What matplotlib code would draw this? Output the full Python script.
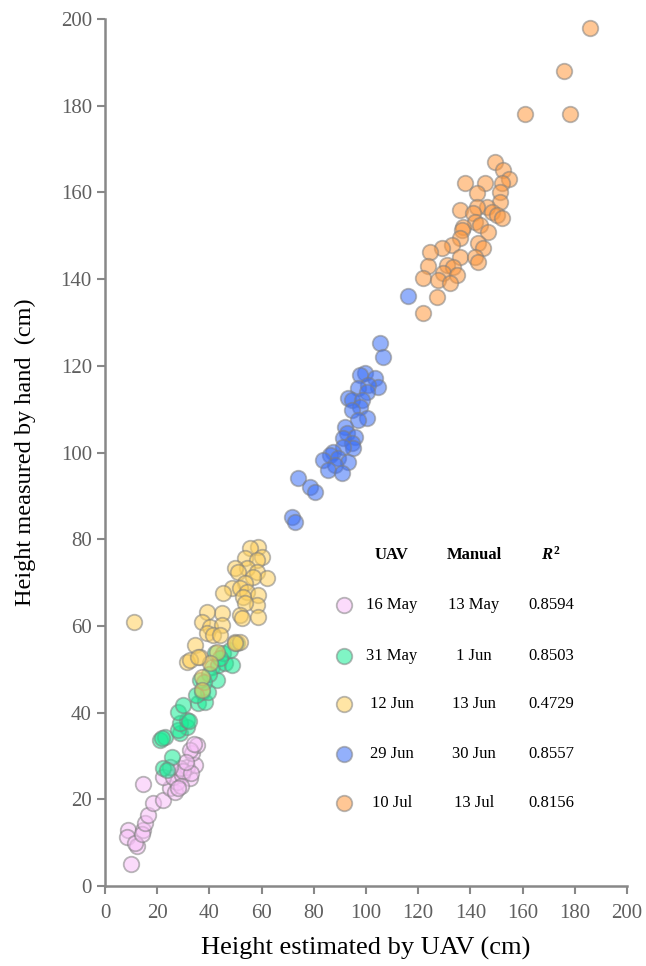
import numpy as np
import matplotlib
matplotlib.use("Agg")
import matplotlib.pyplot as plt

plt.rcParams['font.family'] = ['Liberation Serif', 'DejaVu Serif']
plt.rcParams['mathtext.fontset'] = 'custom'
plt.rcParams['mathtext.rm'] = 'Liberation Serif'
plt.rcParams['mathtext.it'] = 'Liberation Serif:italic:bold'
plt.rcParams['mathtext.bf'] = 'Liberation Serif:bold'

# 16 May (UAV) / 13 May (manual)
may16_x = [10, 8.8, 8.4, 12.2, 11.5, 14.6, 14, 15.3, 16.5, 14.6, 18.4, 22.2, 24.9, 26.8,
           27.6, 22.2, 26, 29.5, 32.6, 31.4, 34.5, 33.3, 35.2, 32.6, 28.7, 30, 33, 29, 31,
           34, 25, 28]
may16_y = [5.1, 12.9, 11.3, 9.2, 10, 12.9, 12, 14.5, 16.4, 23.5, 19.1, 19.8, 22.6, 21.7,
           24, 25.1, 25.1, 25.6, 24.9, 27.5, 27.9, 30.7, 32.5, 31.4, 27.2, 26.5, 26, 23,
           28.5, 32.8, 27.5, 22.5]

# 31 May / 1 Jun
may31_x = [21, 23, 28.7, 31.4, 25.7, 22.2, 23.8, 21.8, 28, 28.7, 31.4, 28, 29.9, 35.6,
           38.3, 37.2, 39.5, 36.4, 42.9, 41, 43.3, 46, 48.7, 42.1, 45.2, 47.9, 50.6, 32,
           40, 44, 35, 38]
may31_y = [33.7, 34.4, 35.3, 36.7, 29.8, 27.2, 26.8, 34.1, 36, 37.6, 38.3, 40.1, 41.8,
           42.2, 42.4, 44.8, 44.8, 47.5, 47.5, 50.5, 51, 51.4, 51, 53.7, 53.7, 54.4, 56,
           38, 49, 52.5, 44, 47]

# 12 Jun / 13 Jun
jun12_x = [11, 58.6, 55.6, 60.2, 53.6, 58.2, 54.4, 49.8, 58.2, 62.1, 51, 56.7, 53.6, 48.7,
           51.7, 45.2, 54.4, 58.6, 52.9, 58.2, 53.6, 51.7, 52.5, 58.6, 44.8, 39.1, 37.2,
           40.2, 44.8, 39.1, 41.4, 44.1, 34.5, 49.8, 51.7, 42.9, 36.4, 31.4, 40.2, 32.6,
           35.6, 37.2, 37.2, 49.8]
jun12_y = [61, 78.2, 78, 75.9, 75.7, 75.2, 73.4, 73.4, 72.4, 71, 72.4, 71.3, 69.9, 68.7,
           68.7, 67.6, 67.8, 67.1, 66.7, 64.8, 65.3, 62.5, 61.8, 62.1, 63, 63.2, 60.9,
           59.7, 60.2, 58.4, 57.9, 57.9, 55.6, 56.3, 56.3, 54, 52.8, 51.7, 51.4, 52.1,
           52.8, 48.2, 45.2, 56]

# 29 Jun / 30 Jun
jun29_x = [105.4, 106.5, 99.6, 97.7, 103.4, 104.6, 100.8, 96.9, 100.4, 93.1, 94.6, 98.5,
           97.7, 94.6, 100.4, 96.9, 92, 92.7, 95.8, 91.2, 94.6, 95, 91.2, 87.4, 86.2, 89.3,
           83.5, 93.1, 88.1, 85.4, 90.8, 73.9, 78.5, 80.5, 71.6, 72.8, 116]
jun29_y = [125.3, 122, 118.3, 117.9, 117.2, 115.1, 115.6, 114.9, 114, 112.6, 112.1, 112.1,
           110.5, 109.8, 108, 107.5, 105.9, 104.5, 103.6, 103.3, 102.2, 101, 101.3, 100.1,
           99.4, 98.7, 98.3, 97.8, 97.1, 96, 95.3, 94.1, 92, 90.9, 85.1, 84, 136.1]

# 10 Jul / 13 Jul
jul10_x = [149.4, 152.5, 154.8, 152.1, 137.9, 145.6, 142.5, 151.3, 151.3, 146.4, 142.5,
           136, 141, 148.3, 150.2, 152.1, 141.8, 137.2, 143.7, 146.7, 136.8, 136, 142.9,
           144.8, 133, 129.1, 124.5, 136, 141.8, 142.9, 131, 133.3, 123.8, 129.5, 134.9,
           121.8, 127.6, 132.2, 127.2, 121.8, 186, 176, 161, 178]
jul10_y = [167, 165.2, 163.1, 162.2, 162.2, 162.2, 159.9, 160.1, 157.8, 156.6, 156.6,
           155.9, 155.2, 155.5, 154.8, 154.1, 153.2, 152, 152.5, 150.9, 151.3, 149.5,
           148.3, 147.2, 147.9, 147.2, 146.3, 145.1, 145.1, 143.9, 143.3, 142.8, 143,
           141.4, 140.9, 140.3, 139.8, 139.1, 135.9, 132.2, 198, 188, 178, 178]

uav_dates = ['16 May', '31 May', '12 Jun', '29 Jun', '10 Jul']
manual_dates = ['13 May', '1 Jun', '13 Jun', '30 Jun', '13 Jul']
r2_values = ['0.8594', '0.8503', '0.4729', '0.8557', '0.8156']
colors = ['#f8bff8', '#18ed96', '#ffd05b', '#3b6ff8', '#ff993e']

series = [(may16_x, may16_y), (may31_x, may31_y), (jun12_x, jun12_y),
          (jun29_x, jun29_y), (jul10_x, jul10_y)]

fig = plt.figure(figsize=(6.46, 9.66), dpi=100)
ax = fig.add_axes([105 / 646, 80 / 966, 522 / 646, 867 / 966])

for (xs, ys), c in zip(series, colors):
    ax.scatter(xs, ys, s=125, color=c, alpha=0.55, edgecolors='#7f7f7f',
               linewidths=1.3, zorder=3, clip_on=False)

ax.set_xlim(0, 200)
ax.set_ylim(0, 200)
ax.set_xticks(np.arange(0, 201, 20))
ax.set_yticks(np.arange(0, 201, 20))
for s in ['top', 'right']:
    ax.spines[s].set_visible(False)
for s in ['left', 'bottom']:
    ax.spines[s].set_color('#888888')
    ax.spines[s].set_linewidth(1.8)
ax.tick_params(direction='out', length=6, width=1.5, color='#888888',
               labelcolor='#5f5f5f', labelsize=15)
ax.tick_params(axis='x', pad=7)
ax.set_xlabel('Height estimated by UAV (cm)', fontsize=19, labelpad=10)
ax.set_ylabel('Height measured by hand  (cm)', fontsize=17.5, labelpad=18)

# table-style legend
def axpos(px, py):
    return (px - 105) / 522, (886 - py) / 867

hy = 555
for px, txt in [(392, 'UAV'), (474, 'Manual')]:
    ax.text(*axpos(px, hy), txt, transform=ax.transAxes, ha='center', va='center',
            fontsize=12, fontweight='bold')
ax.text(*axpos(551, hy), r'$\mathit{R}^{\mathbf{2}}$', transform=ax.transAxes,
        ha='center', va='center', fontsize=12)

rows_y = [605, 656, 704, 754, 803]
for i, ry in enumerate(rows_y):
    mx, my = axpos(344, ry)
    ax.scatter([mx], [my], s=125, color=colors[i], alpha=0.55, edgecolors='#7f7f7f',
               linewidths=1.3, transform=ax.transAxes, clip_on=False, zorder=4)
    ax.text(*axpos(392, ry), uav_dates[i], transform=ax.transAxes, ha='center',
            va='center', fontsize=12)
    ax.text(*axpos(474, ry), manual_dates[i], transform=ax.transAxes, ha='center',
            va='center', fontsize=12)
    ax.text(*axpos(551, ry), r2_values[i], transform=ax.transAxes, ha='center',
            va='center', fontsize=12)

fig.savefig('out.png', dpi=100)
